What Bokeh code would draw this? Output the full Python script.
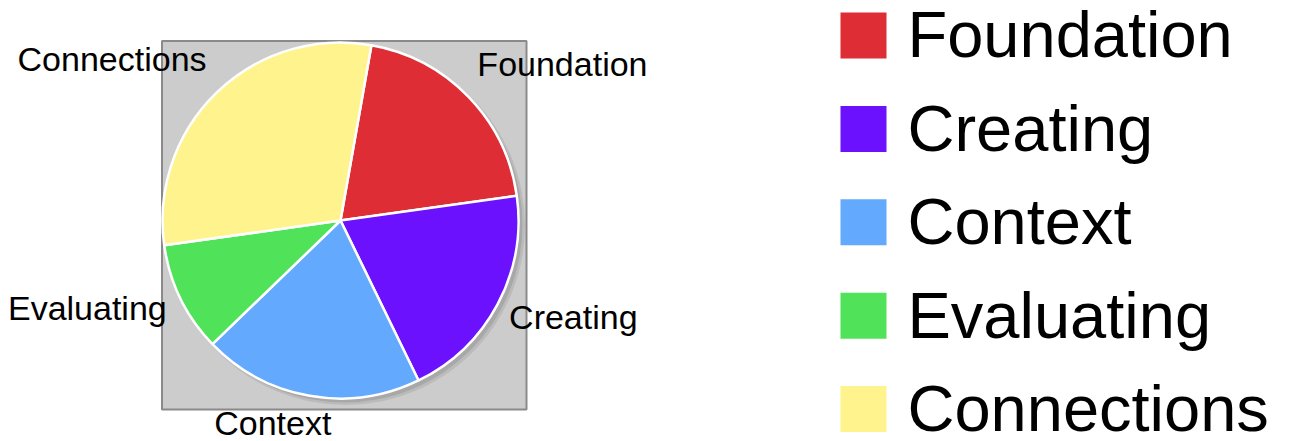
import math
from bokeh.plotting import figure
from bokeh.models import Range1d, ColumnDataSource
from bokeh.core.properties import value
from bokeh.embed import file_html
from bokeh.resources import INLINE

# ---- data ----
categories = ["Foundation", "Creating", "Context", "Evaluating", "Connections"]
shares = [20, 20, 20, 10, 30]
colors = ["#de2d35", "#6b11fe", "#63a9fd", "#50e35a", "#fff38e"]

# ---- layout / style ----
W, H = 1290, 441
CX, CY, R = 340, 221, 178
START_CW = 10.0          # first slice starts 10 deg clockwise from the top
LABEL_R = 200
LABEL_FONT = value("Liberation Sans")
# per-label pixel nudges (screen: +x right, +y down) and alignment
label_dx = [-7, -8, -33, 6, 5]
label_dy = [-5, 16, 18, 13, -5]
label_align = ["left", "left", "center", "right", "right"]
BASE_FIX = 0.38   # em; compensates renderer baseline placement

p = figure(width=W, height=H, output_backend="svg", toolbar_location=None,
           x_range=Range1d(0, W), y_range=Range1d(0, H),
           min_border=0, outline_line_color=None)
p.axis.visible = False
p.grid.visible = False
p.background_fill_color = "white"
p.border_fill_color = "white"

# gray plot box behind the pie
p.quad(left=[CX - R - 0.5], right=[CX + R + 8], top=[CY + R + 1.5], bottom=[CY - R - 11],
       fill_color="#cccccc", line_color="#8a8a8a", line_width=2)

# shadow
p.circle(x=[CX + 5], y=[CY - 5], radius=R + 1.5, fill_color="#bbbbbb", line_color=None)
p.circle(x=[CX + 4], y=[CY - 4], radius=R, fill_color="#a8a8a8", line_color=None)

total = float(sum(shares))
starts, ends, mids = [], [], []
acc = START_CW
for s in shares:
    span = 360.0 * s / total
    starts.append(math.radians(90 - acc))
    ends.append(math.radians(90 - (acc + span)))
    mids.append(acc + span / 2)
    acc += span

src = ColumnDataSource(dict(start=starts, end=ends, color=colors, cat=categories))
p.wedge(x=CX, y=CY, radius=R, start_angle="start", end_angle="end", direction="clock",
        fill_color="color", line_color="white", line_width=2.5, source=src)

# slice labels
LS = 34
lx, ly = [], []
for m, dx, dy in zip(mids, label_dx, label_dy):
    a = math.radians(m)
    lx.append(CX + LABEL_R * math.sin(a) + dx)
    ly.append(CY + LABEL_R * math.cos(a) - dy + BASE_FIX * LS)
for x, y, t, al in zip(lx, ly, categories, label_align):
    p.text(x=[x], y=[y], text=[t], text_font=LABEL_FONT, text_font_size=f"{LS}px",
           text_color="black", text_align=al, text_baseline="alphabetic")

# legend (manual)
LEG_X, LEG_TOP, LEG_STEP, SW, FS = 840, 35, 93.4, 46, 65
for i, (c, t) in enumerate(zip(colors, categories)):
    ys = LEG_TOP + i * LEG_STEP        # screen y of swatch centre
    yd = H - ys
    p.rect(x=[LEG_X + SW / 2], y=[yd], width=SW, height=SW, fill_color=c, line_color=None)
    p.text(x=[907], y=[yd - 24 + BASE_FIX * FS], text=[t], text_font=LABEL_FONT,
           text_font_size=f"{FS}px", text_color="black", text_align="left",
           text_baseline="alphabetic")

open("out.html", "w").write(file_html(p, INLINE))
